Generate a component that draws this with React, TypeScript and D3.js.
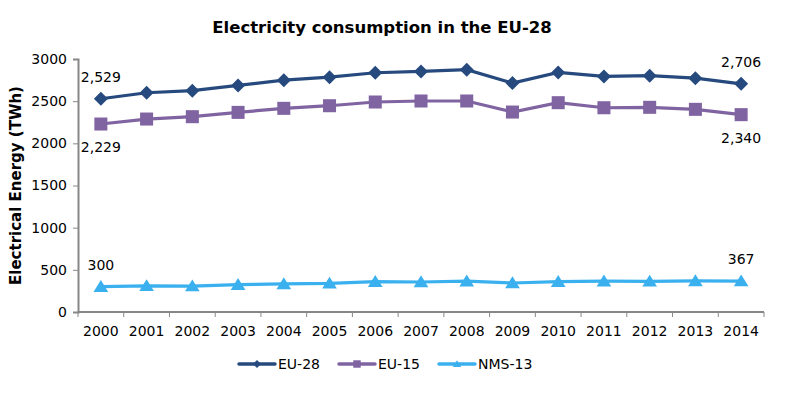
import React, { useEffect, useRef } from 'react';
import * as d3 from 'd3';

const years = ['2000', '2001', '2002', '2003', '2004', '2005', '2006', '2007', '2008', '2009', '2010', '2011', '2012', '2013', '2014'];
const eu28 = [2529, 2600, 2624, 2687, 2749, 2785, 2837, 2853, 2873, 2714, 2841, 2793, 2802, 2773, 2706];
const eu15 = [2229, 2288, 2316, 2367, 2415, 2446, 2490, 2502, 2502, 2371, 2482, 2422, 2427, 2403, 2340];
const nms13 = [300, 310, 308, 324, 333, 340, 359, 356, 366, 344, 359, 366, 364, 369, 367];
const yTicks = [0, 500, 1000, 1500, 2000, 2500, 3000];

const series = [
  { name: 'EU-28', values: eu28, color: '#264a7e', shape: 'diamond', above: true },
  { name: 'EU-15', values: eu15, color: '#8064a2', shape: 'square', above: false },
  { name: 'NMS-13', values: nms13, color: '#3bb0ee', shape: 'triangle', above: true },
];

const App = () => {
  const ref = useRef<SVGSVGElement>(null);

  useEffect(() => {
    const width = 808;
    const height = 398;
    const svg = d3.select(ref.current);
    svg.selectAll('*').remove();
    svg.attr('width', width).attr('height', height).style('background', '#fff');

    const font = 'DejaVu Sans, Verdana, sans-serif';
    const left = 78, right = 764, top = 59, bottom = 312;

    const x = d3.scaleBand().domain(years).range([left, right]);
    const y = d3.scaleLinear().domain([0, 3000]).range([bottom, top]);
    const cx = (yr: string) => (x(yr) as number) + x.bandwidth() / 2;

    // title
    svg.append('text')
      .attr('x', 382).attr('y', 33)
      .attr('text-anchor', 'middle')
      .style('font-family', font).style('font-size', '16.5px').style('font-weight', 'bold')
      .text('Electricity consumption in the EU-28');

    // y title
    svg.append('text')
      .attr('transform', `translate(21,${(top + bottom) / 2}) rotate(-90)`)
      .attr('text-anchor', 'middle')
      .style('font-family', font).style('font-size', '15px').style('font-weight', 'bold')
      .text('Electrical Energy (TWh)');

    const axisColor = '#878787';

    // y axis
    const ya = svg.append('g').attr('transform', `translate(${left},0)`)
      .call(d3.axisLeft(y).tickValues(yTicks).tickSize(5).tickPadding(6).tickFormat(d3.format('d')));
    ya.select('.domain').attr('stroke', axisColor).attr('stroke-width', 2);
    ya.selectAll('.tick line').attr('stroke', axisColor);
    ya.selectAll('text').style('font-family', font).style('font-size', '14px').style('fill', '#000');

    // x axis
    const xa = svg.append('g').attr('transform', `translate(0,${bottom})`);
    xa.append('line').attr('x1', left).attr('x2', right).attr('stroke', axisColor).attr('stroke-width', 2);
    const edges = years.map(yr => x(yr) as number).concat([right]);
    xa.selectAll('.xt').data(edges).enter().append('line')
      .attr('x1', d => d).attr('x2', d => d).attr('y1', 0).attr('y2', 5)
      .attr('stroke', axisColor);
    xa.selectAll('.xl').data(years).enter().append('text')
      .attr('x', d => cx(d)).attr('y', 24)
      .attr('text-anchor', 'middle')
      .style('font-family', font).style('font-size', '14px')
      .text(d => d);

    const marker = (g: any, shape: string, color: string, s: number) => {
      if (shape === 'diamond') g.append('path').attr('d', `M0,${-s}L${s},0L0,${s}L${-s},0Z`).attr('fill', color);
      else if (shape === 'square') g.append('rect').attr('x', -s * 0.93).attr('y', -s * 0.93).attr('width', s * 1.86).attr('height', s * 1.86).attr('fill', color);
      else g.append('path').attr('d', `M0,${-s * 0.95}L${s * 1.05},${s * 0.75}L${-s * 1.05},${s * 0.75}Z`).attr('fill', color);
    };

    const line = d3.line<number>().x((_, i) => cx(years[i])).y(d => y(d));
    const fmt = d3.format(',');

    series.forEach(s => {
      svg.append('path').datum(s.values)
        .attr('fill', 'none').attr('stroke', s.color).attr('stroke-width', 3.2)
        .attr('d', line);
      s.values.forEach((v, i) => {
        const g = svg.append('g').attr('transform', `translate(${cx(years[i])},${y(v)})`);
        marker(g, s.shape, s.color, 7);
      });
      [0, s.values.length - 1].forEach(i => {
        const v = s.values[i];
        svg.append('text')
          .attr('x', cx(years[i]))
          .attr('y', s.above ? y(v) - 17 : y(v) + 28)
          .attr('text-anchor', 'middle')
          .style('font-family', font).style('font-size', '14px')
          .text(fmt(v));
      });
    });

    // legend
    const lg = svg.append('g').attr('transform', 'translate(0,364)');
    series.forEach((s, i) => {
      const x0 = 239 + i * 100;
      lg.append('line').attr('x1', x0).attr('x2', x0 + 36)
        .attr('stroke', s.color).attr('stroke-width', 3.5).attr('stroke-linecap', 'round');
      const mg = lg.append('g').attr('transform', `translate(${x0 + 18},0)`);
      marker(mg, s.shape, s.color, 4);
      lg.append('text').attr('x', x0 + 39).attr('y', 5)
        .style('font-family', font).style('font-size', '14px')
        .text(s.name);
    });
  }, []);

  return <svg ref={ref} style={{ position: 'absolute', left: 0, top: 0 }}></svg>;
};

export default App;
